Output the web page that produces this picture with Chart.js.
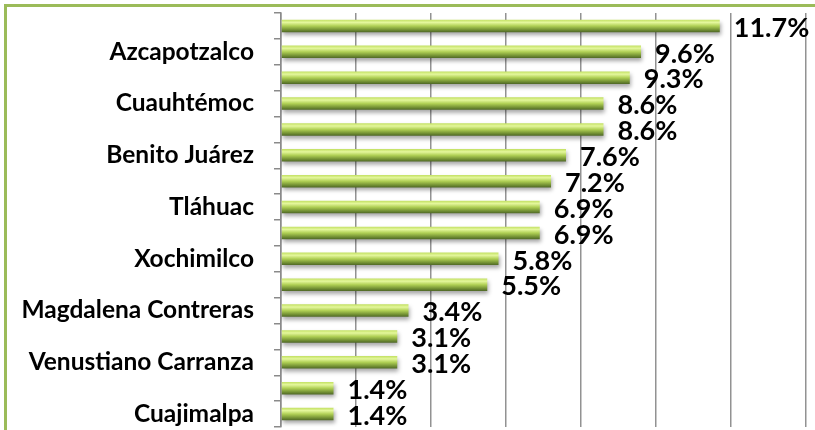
<!DOCTYPE html>
<html>
<head>
<meta charset="utf-8">
<script src="https://cdn.jsdelivr.net/npm/chart.js@4/dist/chart.umd.min.js"></script>
<style>
  html, body { margin: 0; padding: 0; background: #ffffff; overflow: hidden; }
  #wrap { position: relative; width: 815px; height: 430px; }
  #frame { position: absolute; left: 4px; top: 4px; width: 900px; height: 600px;
           border-left: 3px solid #9bbb59; border-top: 3px solid #9bbb59; pointer-events: none; }
  canvas { position: absolute; left: 0; top: 0; }
</style>
</head>
<body>
<div id="wrap">
  <div id="frame"></div>
  <canvas id="c" width="815" height="430"></canvas>
</div>
<script>
const categories = ["", "Azcapotzalco", "", "Cuauhtémoc", "", "Benito Juárez", "", "Tláhuac",
                    "", "Xochimilco", "", "Magdalena Contreras", "", "Venustiano Carranza", "", "Cuajimalpa"];
const values = [11.7, 9.6, 9.3, 8.6, 8.6, 7.6, 7.2, 6.9, 6.9, 5.8, 5.5, 3.4, 3.1, 3.1, 1.4, 1.4];
const valueLabels = values.map(v => v.toFixed(1) + "%");
const xMin = 0, xMax = 14, xStep = 2;

const barPct = 0.48;

function barGradient(context) {
  const chart = context.chart;
  const ys = chart.scales && chart.scales.y;
  if (!ys || !chart.chartArea) return "#9bbb59";
  const c = ys.getPixelForValue(context.dataIndex);
  const half = (ys.height / categories.length) * barPct / 2;
  const g = chart.ctx.createLinearGradient(0, c - half, 0, c + half);
  g.addColorStop(0, "#c2e062");
  g.addColorStop(0.22, "#e4f79c");
  g.addColorStop(0.5, "#b0d055");
  g.addColorStop(0.8, "#759335");
  g.addColorStop(1, "#4f6826");
  return g;
}

const shadowPlugin = {
  id: "shadow",
  beforeDatasetsDraw(chart) {
    const ctx = chart.ctx;
    ctx.save();
    ctx.shadowColor = "rgba(0,0,0,0.35)";
    ctx.shadowBlur = 4;
    ctx.shadowOffsetX = 1;
    ctx.shadowOffsetY = 3;
  },
  afterDatasetsDraw(chart) {
    chart.ctx.restore();
  }
};

const labelPlugin = {
  id: "valueLabels",
  afterDatasetsDraw(chart) {
    const ctx = chart.ctx;
    const meta = chart.getDatasetMeta(0);
    ctx.save();
    ctx.font = "bold 27px Lato, 'Open Sans', sans-serif";
    ctx.fillStyle = "#000000";
    ctx.textAlign = "left";
    ctx.textBaseline = "middle";
    meta.data.forEach((bar, i) => {
      ctx.fillText(valueLabels[i], bar.x + 14, bar.y + 2);
    });
    ctx.restore();
  }
};

new Chart(document.getElementById("c"), {
  type: "bar",
  data: {
    labels: categories,
    datasets: [{
      data: values,
      backgroundColor: barGradient,
      borderWidth: 0,
      categoryPercentage: 1,
      barPercentage: barPct
    }]
  },
  options: {
    indexAxis: "y",
    responsive: false,
    animation: false,
    devicePixelRatio: 1,
    layout: { padding: { top: 13, right: 9, bottom: 3, left: 0 } },
    plugins: { legend: { display: false }, tooltip: { enabled: false } },
    scales: {
      x: {
        min: xMin, max: xMax,
        afterFit(scale) { scale.height = 0; scale.paddingLeft = 0; scale.paddingRight = 0; },
        ticks: { stepSize: xStep, display: false },
        grid: { color: "#929292", lineWidth: 1.5, drawTicks: false },
        border: { display: false }
      },
      y: {
        afterFit(scale) { scale.width = 281; scale.paddingTop = 0; scale.paddingBottom = 0; },
        ticks: {
          autoSkip: false,
          padding: 20,
          color: "#000000",
          font: { family: "Lato, 'Open Sans', sans-serif", size: 24.5, weight: "bold" }
        },
        grid: { drawOnChartArea: false, drawTicks: true, tickLength: 7, offset: true, color: "#8a8a8a", lineWidth: 1.5 },
        border: { display: true, color: "#8a8a8a", width: 1.5 }
      }
    }
  },
  plugins: [shadowPlugin, labelPlugin]
});
</script>
</body>
</html>
